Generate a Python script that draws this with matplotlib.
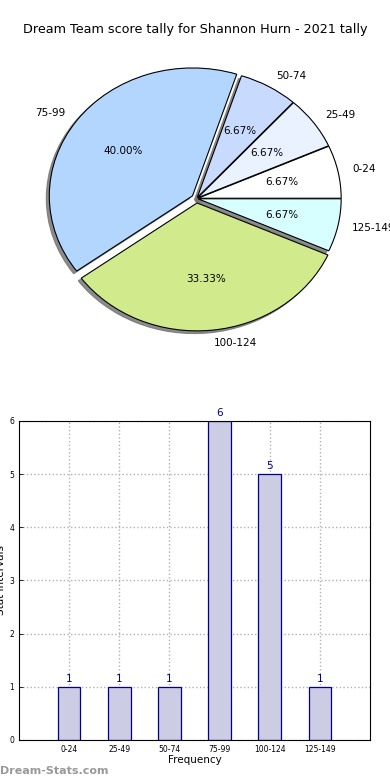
import numpy as np
import matplotlib.pyplot as plt

# data
labels = ['0-24', '25-49', '50-74', '75-99', '100-124', '125-149']
counts = [1, 1, 1, 6, 5, 1]
pie_colors = ['#ffffff', '#eaf2ff', '#c8dbff', '#b3d6ff', '#d0ea8c', '#d8ffff']
explode = [0.01, 0.01, 0.01, 0.035, 0.035, 0.01]

fig = plt.figure(figsize=(3.9, 7.8), dpi=100)
fig.text(0.5, 1 - 30 / 780, 'Dream Team score tally for Shannon Hurn - 2021 tally',
         ha='center', va='center', fontsize=9.2)

# pie
ax1 = fig.add_axes([0.045, 0.5405, 0.918, 0.41])
wedges, texts, autotexts = ax1.pie(counts, labels=labels, colors=pie_colors, explode=explode,
                                   autopct='%1.2f%%', startangle=0,
                                   shadow={'ox': -0.015, 'oy': -0.015, 'color': '#707070', 'alpha': 0.8},
                                   wedgeprops=dict(edgecolor='black', linewidth=0.8),
                                   textprops=dict(fontsize=7.5))
ax1.set_aspect('auto')
ax1.set_xlim(-1.25, 1.25)
ax1.set_ylim(-1.25, 1.25)

# bars
ax2 = fig.add_axes([0.0487, 0.0513, 0.9, 0.409])
x = np.arange(len(labels))
ax2.bar(x, counts, width=0.45, color='#ccccE5', edgecolor='#00008b', linewidth=0.9, zorder=2)
for xi, c in zip(x, counts):
    ax2.text(xi, c + 0.06, str(c), ha='center', va='bottom', color='#00008b', fontsize=7.5)
ax2.set_xlim(-1, 6)
ax2.set_ylim(0, 6)
ax2.set_xticks(x)
ax2.set_xticklabels(labels, fontsize=5.5)
ax2.set_yticks(range(7))
ax2.tick_params(axis='y', labelsize=5.5)
ax2.tick_params(direction='in', length=3, width=0.6)
ax2.grid(True, linestyle=':', color='#b0b0b0', linewidth=1, zorder=0)
ax2.set_axisbelow(True)
ax2.set_xlabel('Frequency', fontsize=7.5, labelpad=1)
ax2.set_ylabel('Stat Intervals', fontsize=7.5, labelpad=2)

fig.text(0.0, 1 - 771 / 780, 'Dream-Stats.com', ha='left', va='center',
         fontsize=8, color='#999999', fontweight='bold')

fig.savefig('out.png', dpi=100)
